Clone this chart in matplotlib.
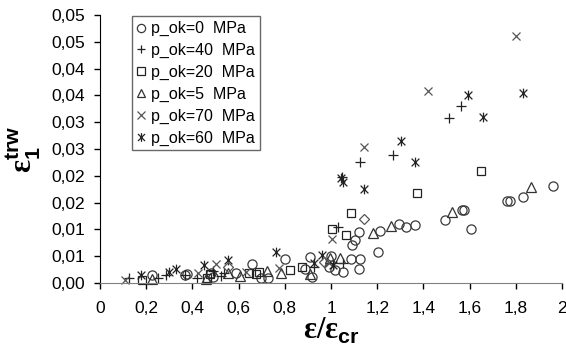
"""
Scatter of eps_1^trw against eps/eps_cr for several p_ok levels
"""

import matplotlib.pyplot as plt
import numpy as np
from matplotlib.path import Path

# data
x_p0 = [0.227, 0.366, 0.378, 0.48, 0.49, 0.588, 0.66, 0.695, 0.728, 0.803, 0.889, 0.91, 0.917,
        0.99, 1.0, 1.018, 1.054, 1.09, 1.104, 1.12, 1.087, 1.125, 1.121, 1.205, 1.211, 1.293,
        1.323, 1.365, 1.494, 1.566, 1.577, 1.606, 1.763, 1.775, 1.831, 1.96]
y_p0 = [0.0015, 0.0015, 0.0016, 0.0018, 0.0012, 0.0019, 0.0035, 0.0009, 0.0010, 0.0044, 0.0027, 0.0049, 0.0012,
        0.0030, 0.0050, 0.0024, 0.0021, 0.0070, 0.0081, 0.0096, 0.0044, 0.0044, 0.0026, 0.0057, 0.0097, 0.0110,
        0.0105, 0.0108, 0.0118, 0.0136, 0.0136, 0.0101, 0.0153, 0.0153, 0.0160, 0.0181]

x_p40 = [0.126, 0.25, 0.287, 0.37, 0.42, 0.49, 0.523, 0.538, 0.925, 1.029, 1.054, 1.047, 1.125, 1.269, 1.51, 1.564]
y_p40 = [0.0010, 0.0010, 0.0015, 0.0015, 0.0010, 0.0022, 0.0013, 0.0018, 0.0030, 0.0104, 0.0038, 0.0198, 0.0225,
         0.0238, 0.0307, 0.0330]

x_p20 = [0.182, 0.465, 0.475, 0.645, 0.674, 0.69, 0.824, 0.874, 1.006, 1.063, 1.085, 1.372, 1.65]
y_p20 = [0.0005, 0.0010, 0.0017, 0.0019, 0.0017, 0.0021, 0.0024, 0.0029, 0.0100, 0.0090, 0.0130, 0.0167, 0.0209]

x_p5 = [0.227, 0.459, 0.552, 0.605, 0.724, 0.783, 0.91, 0.997, 1.04, 1.18, 1.259, 1.524, 1.867]
y_p5 = [0.0008, 0.0007, 0.0018, 0.0013, 0.0022, 0.0019, 0.0016, 0.0046, 0.0046, 0.0093, 0.0107, 0.0133, 0.0179]

x_p70 = [0.108, 0.426, 0.5, 0.631, 0.777, 0.99, 1.003, 1.143, 1.421, 1.803]
y_p70 = [0.0005, 0.0018, 0.0035, 0.0020, 0.0028, 0.0037, 0.0083, 0.0253, 0.0358, 0.0460]

x_p60 = [0.179, 0.298, 0.33, 0.452, 0.556, 0.764, 0.925, 0.96, 1.01, 1.045, 1.05, 1.143, 1.302, 1.362,
         1.594, 1.656, 1.832]
y_p60 = [0.0015, 0.0021, 0.0027, 0.0034, 0.0042, 0.0058, 0.0037, 0.0052, 0.0034, 0.0195, 0.0188, 0.0175, 0.0265,
         0.0225, 0.0351, 0.0309, 0.0354]

# extra diamonds without a legend entry
x_extra = [0.556, 0.968, 1.143]
y_extra = [0.0030, 0.0040, 0.0119]

labels = ['p_ok=0  MPa', 'p_ok=40  MPa', 'p_ok=20  MPa', 'p_ok=5  MPa', 'p_ok=70  MPa', 'p_ok=60  MPa']

xticks = [0, 0.2, 0.4, 0.6, 0.8, 1.0, 1.2, 1.4, 1.6, 1.8, 2.0]
xtick_labels = ['0', '0,2', '0,4', '0,6', '0,8', '1', '1,2', '1,4', '1,6', '1,8', '2']
yticks = [0, 0.005, 0.01, 0.015, 0.02, 0.025, 0.03, 0.035, 0.04, 0.045, 0.05]
ytick_labels = ['0,00', '0,01', '0,01', '0,02', '0,02', '0,03', '0,03', '0,04', '0,04', '0,05', '0,05']

plt.rcParams['font.family'] = 'Liberation Sans'
plt.rcParams['mathtext.fontset'] = 'custom'
plt.rcParams['mathtext.bf'] = 'Liberation Serif:bold'
plt.rcParams['mathtext.sf'] = 'Liberation Sans:bold'

# excel style star: x with a vertical bar through it
star = Path([(0, -1), (0, 1), (-0.8, -0.8), (0.8, 0.8), (-0.8, 0.8), (0.8, -0.8)],
            [Path.MOVETO, Path.LINETO] * 3)

fig = plt.figure(figsize=(5.66, 3.52), dpi=100)
ax = fig.add_axes([100 / 566, (352 - 283) / 352, 462 / 566, 268 / 352])

common = dict(linestyle='none', mfc='none', mew=0.9, clip_on=False)
ax.plot(x_p0, y_p0, marker='o', ms=6.6, mec='#3a3a3a', label=labels[0], **common)
ax.plot(x_p40, y_p40, marker='+', ms=6.5, mec='#222222', label=labels[1], **common)
ax.plot(x_p20, y_p20, marker='s', ms=6.3, mec='#222222', label=labels[2], **common)
ax.plot(x_p5, y_p5, marker='^', ms=7, mec='#333333', label=labels[3], **common)
ax.plot(x_p70, y_p70, marker='x', ms=6, mec='#555555', label=labels[4], **common)
ax.plot(x_p60, y_p60, marker=star, ms=7, mec='#222222', label=labels[5], **common)
ax.plot(x_extra, y_extra, marker='D', ms=5.5, mec='#555555', **common)

ax.set_xlim(0, 2)
ax.set_ylim(0, 0.05)
ax.set_xticks(xticks)
ax.set_xticklabels(xtick_labels)
ax.set_yticks(yticks)
ax.set_yticklabels(ytick_labels)
ax.tick_params(axis='both', direction='out', length=4, width=1, labelsize=12.5, color='black')
ax.tick_params(axis='x', pad=9)
ax.tick_params(axis='y', pad=7)

ax.spines['top'].set_visible(False)
ax.spines['right'].set_visible(False)
ax.spines['bottom'].set_color('#808080')
ax.spines['left'].set_color('black')

ax.set_xlabel(r'$\mathbf{ε/ε}_{\mathsf{cr}}$', fontsize=22, labelpad=0)
ax.set_ylabel(r'$\mathbf{ε}_{\mathsf{1}}^{\mathsf{trw}}$', fontsize=22, labelpad=6)

leg = ax.legend(loc='upper left', bbox_to_anchor=(0.069, 0.995), fontsize=11.5, frameon=True,
                fancybox=False, edgecolor='#444444', handlelength=0.6, handletextpad=0.3,
                borderpad=0.3, labelspacing=0.42, borderaxespad=0, markerscale=0.9)
leg.get_frame().set_linewidth(1.0)

fig.savefig('out.png', dpi=100)
